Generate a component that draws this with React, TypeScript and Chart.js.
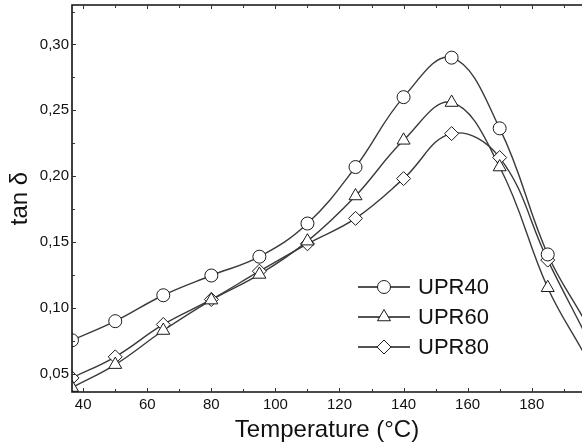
import React, { useEffect, useRef } from 'react';
import { Chart, registerables } from 'chart.js';
import { drawPoint } from 'chart.js/helpers';

Chart.register(...registerables);

// ---- data ----
const seriesNames = ['UPR40', 'UPR60', 'UPR80'];
const markerStyles = ['circle', 'triangle', 'rectRot'];
const markerRadii = [6.5, 7.5, 7];

const temps = [36.5, 50, 65, 80, 95, 110, 125, 140, 155, 170, 185];
const upr40 = [0.0753, 0.0898, 0.1095, 0.1245, 0.1388, 0.164, 0.2069, 0.26, 0.29, 0.2363, 0.1405];
const upr60 = [0.0394, 0.0568, 0.0827, 0.1058, 0.1253, 0.1506, 0.1849, 0.2272, 0.2559, 0.2069, 0.1152];
const upr80 = [0.0467, 0.0627, 0.0873, 0.1063, 0.1278, 0.1486, 0.1679, 0.1981, 0.2323, 0.2141, 0.1362];

// where the curves leave the plot on the right
const edgeTemp = 196;
const edgeValues = [0.0926, 0.0667, 0.0835];

const xTicks = [40, 60, 80, 100, 120, 140, 160, 180];
const yTicks = [0.05, 0.1, 0.15, 0.2, 0.25, 0.3];
const xMin = 36.5;
const xMax = 195.7;
const yMin = 0.036;
const yMax = 0.33;

const allSeries = [upr40, upr60, upr80];

const FONT = "'Liberation Sans', Arial, Helvetica, sans-serif";
const LINE_COLOR = '#3a3a3a';
const MARK_COLOR = '#1a1a1a';

const framePlugin = {
  id: 'frame',
  afterDatasetsDraw(chart: any) {
    const { ctx, chartArea } = chart;
    const { left, right, top, bottom } = chartArea;
    const xs = chart.scales.x;
    const ys = chart.scales.y;
    ctx.save();
    ctx.strokeStyle = '#111';
    ctx.lineWidth = 1.6;
    ctx.beginPath();
    ctx.moveTo(right + 2, top);
    ctx.lineTo(left, top);
    ctx.lineTo(left, bottom);
    ctx.lineTo(right + 2, bottom);
    ctx.stroke();

    ctx.lineWidth = 1;
    ctx.strokeStyle = '#333';
    const xStep = xTicks[1] - xTicks[0];
    const xAll: { v: number; len: number }[] = [];
    xTicks.forEach((v, i) => {
      xAll.push({ v, len: 4 });
      xAll.push({ v: v + xStep / 2, len: 3 });
      if (i === 0) xAll.push({ v: v - xStep / 2, len: 3 });
    });
    ctx.beginPath();
    xAll.forEach(({ v, len }) => {
      if (v <= xMin || v >= xMax) return;
      const px = Math.round(xs.getPixelForValue(v)) + 0.5;
      ctx.moveTo(px, bottom);
      ctx.lineTo(px, bottom - len);
      ctx.moveTo(px, top);
      ctx.lineTo(px, top + len);
    });
    const yStep = yTicks[1] - yTicks[0];
    const yAll: { v: number; len: number }[] = [];
    yTicks.forEach((v, i) => {
      yAll.push({ v, len: 4 });
      yAll.push({ v: v + yStep / 2, len: 3 });
      if (i === 0) yAll.push({ v: v - yStep / 2, len: 3 });
    });
    yAll.forEach(({ v, len }) => {
      if (v <= yMin || v >= yMax) return;
      const py = Math.round(ys.getPixelForValue(v)) + 0.5;
      ctx.moveTo(left, py);
      ctx.lineTo(left + len, py);
    });
    ctx.stroke();
    ctx.restore();
  },
};

const legendPlugin = {
  id: 'innerLegend',
  afterDraw(chart: any) {
    const { ctx } = chart;
    const x0 = 358;
    const x1 = 410;
    const xm = 384;
    const xt = 418;
    const rows = [287, 317, 347];
    ctx.save();
    seriesNames.forEach((name, i) => {
      const y = rows[i];
      ctx.strokeStyle = MARK_COLOR;
      ctx.lineWidth = 1.3;
      ctx.beginPath();
      ctx.moveTo(x0, y);
      ctx.lineTo(x1, y);
      ctx.stroke();
      ctx.fillStyle = '#fff';
      ctx.strokeStyle = MARK_COLOR;
      ctx.lineWidth = 1;
      drawPoint(ctx, { pointStyle: markerStyles[i], radius: markerRadii[i], rotation: 0, borderWidth: 1 } as any, xm, y);
      ctx.fillStyle = '#111';
      ctx.font = `22px ${FONT}`;
      ctx.textBaseline = 'middle';
      ctx.textAlign = 'left';
      ctx.fillText(name, xt, y + 1);
    });
    ctx.restore();
  },
};

const zeroPad = (s: any) => {
  s.paddingTop = 0;
  s.paddingBottom = 0;
  s.paddingLeft = 0;
  s.paddingRight = 0;
};

export default function App() {
  const ref = useRef<HTMLCanvasElement | null>(null);

  useEffect(() => {
    document.body.style.margin = '0';
    const canvas = ref.current;
    if (!canvas) return;

    const lineSets = allSeries.map((vals, i) => ({
      type: 'line' as const,
      label: seriesNames[i] + ' curve',
      data: [...temps.map((t, j) => ({ x: t, y: vals[j] })), { x: edgeTemp, y: edgeValues[i] }],
      borderColor: LINE_COLOR,
      borderWidth: 1.4,
      pointRadius: 0,
      tension: 0.4,
      fill: false,
      order: 2,
      clip: 0,
    }));
    const markSets = allSeries.map((vals, i) => ({
      type: 'scatter' as const,
      label: seriesNames[i],
      data: temps.map((t, j) => ({ x: t, y: vals[j] })),
      showLine: false,
      pointStyle: markerStyles[i],
      pointRadius: markerRadii[i],
      pointBackgroundColor: '#ffffff',
      pointBorderColor: MARK_COLOR,
      pointBorderWidth: 1,
      order: 1,
      clip: 0,
    }));

    const chart = new Chart(canvas, {
      type: 'line',
      data: { datasets: [...lineSets, ...markSets] as any },
      options: {
        responsive: false,
        animation: false,
        events: [],
        layout: { autoPadding: false, padding: { top: 5, right: 0, left: 0, bottom: 0 } },
        plugins: { legend: { display: false }, tooltip: { enabled: false } },
        scales: {
          x: {
            type: 'linear',
            min: xMin,
            max: xMax,
            grid: { display: false, drawTicks: false },
            border: { display: false },
            afterBuildTicks: (s: any) => {
              s.ticks = xTicks.map((v) => ({ value: v }));
            },
            afterFit: (s: any) => {
              s.height = 55;
              zeroPad(s);
            },
            ticks: {
              autoSkip: false,
              maxRotation: 0,
              padding: 4,
              color: '#111',
              font: { family: FONT, size: 15 },
              callback: (v: any) => String(v),
            },
            title: {
              display: true,
              text: 'Temperature (°C)',
              color: '#111',
              font: { family: FONT, size: 24 },
              padding: { top: 0, bottom: 2 },
            },
          },
          y: {
            type: 'linear',
            min: yMin,
            max: yMax,
            grid: { display: false, drawTicks: false },
            border: { display: false },
            afterBuildTicks: (s: any) => {
              s.ticks = yTicks.map((v) => ({ value: v }));
            },
            afterFit: (s: any) => {
              s.width = 72;
              zeroPad(s);
            },
            ticks: {
              autoSkip: false,
              padding: 3,
              color: '#111',
              font: { family: FONT, size: 15 },
              callback: (v: any) => Number(v).toFixed(2).replace('.', ','),
            },
            title: {
              display: true,
              text: 'tan δ',
              color: '#111',
              font: { family: FONT, size: 24 },
              padding: { top: 6, bottom: 0 },
            },
          },
        },
      },
      plugins: [framePlugin, legendPlugin],
    });

    return () => chart.destroy();
  }, []);

  return (
    <div style={{ position: 'absolute', left: 0, top: 0, width: 582, height: 447 }}>
      <canvas ref={ref} width={582} height={447} style={{ width: 582, height: 447 }} />
    </div>
  );
}
